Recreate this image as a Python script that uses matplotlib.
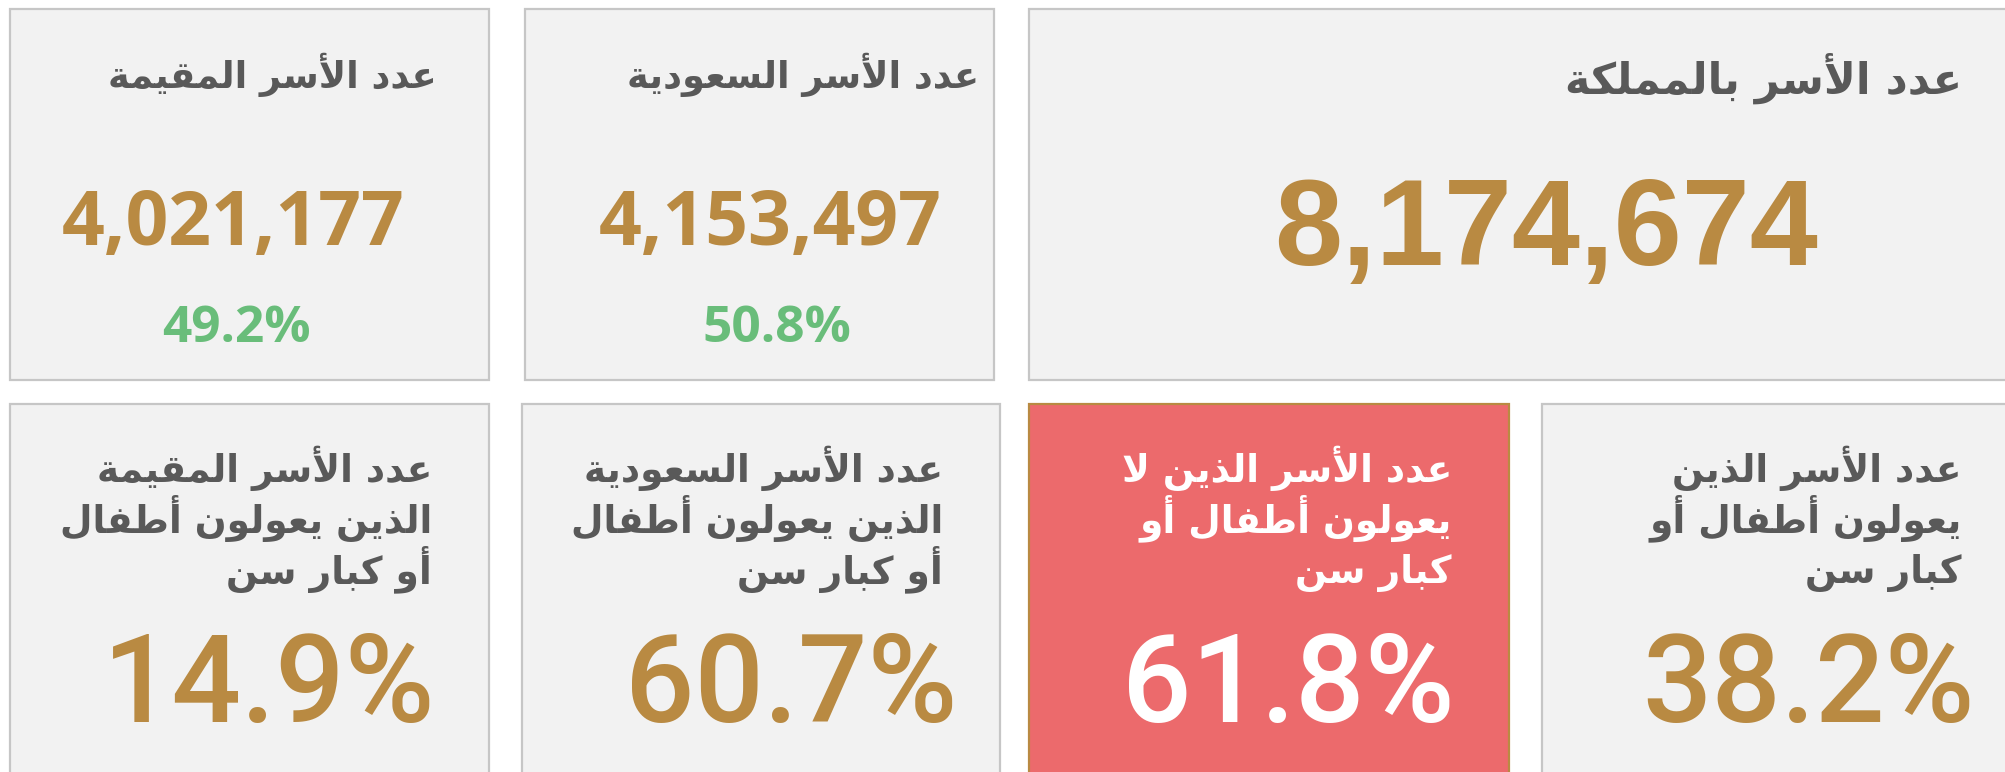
import matplotlib
matplotlib.use('Agg')
import matplotlib.pyplot as plt
from matplotlib.patches import Rectangle

# ---- data ----
top_titles = ['عدد الأسر المقيمة', 'عدد الأسر السعودية', 'عدد الأسر بالمملكة']
top_counts = [4021177, 4153497, 8174674]
top_shares = ['49.2%', '50.8%', None]

bottom_titles = [
    ['عدد الأسر المقيمة', 'الذين يعولون أطفال', 'أو كبار سن'],
    ['عدد الأسر السعودية', 'الذين يعولون أطفال', 'أو كبار سن'],
    ['عدد الأسر الذين لا', 'يعولون أطفال أو', 'كبار سن'],
    ['عدد الأسر الذين', 'يعولون أطفال أو', 'كبار سن'],
]
bottom_pcts = [14.9, 60.7, 61.8, 38.2]
highlight = 2  # the red card

# ---- colours ----
card_bg = '#f2f2f2'
card_edge = '#c6c6c6'
gray = '#595959'
gold = '#b98a42'
green = '#69bd7a'
red = '#ec6a6c'

# minimal arabic shaping (matplotlib has no shaper): isolated, final, initial, medial
FORMS = {
    'ا': ('\uFE8D', '\uFE8E', None, None),
    'أ': ('\uFE83', '\uFE84', None, None),
    'ب': ('\uFE8F', '\uFE90', '\uFE91', '\uFE92'),
    'ة': ('\uFE93', '\uFE94', None, None),
    'د': ('\uFEA9', '\uFEAA', None, None),
    'ذ': ('\uFEAB', '\uFEAC', None, None),
    'ر': ('\uFEAD', '\uFEAE', None, None),
    'س': ('\uFEB1', '\uFEB2', '\uFEB3', '\uFEB4'),
    'ط': ('\uFEC1', '\uFEC2', '\uFEC3', '\uFEC4'),
    'ع': ('\uFEC9', '\uFECA', '\uFECB', '\uFECC'),
    'ف': ('\uFED1', '\uFED2', '\uFED3', '\uFED4'),
    'ق': ('\uFED5', '\uFED6', '\uFED7', '\uFED8'),
    'ك': ('\uFED9', '\uFEDA', '\uFEDB', '\uFEDC'),
    'ل': ('\uFEDD', '\uFEDE', '\uFEDF', '\uFEE0'),
    'م': ('\uFEE1', '\uFEE2', '\uFEE3', '\uFEE4'),
    'ن': ('\uFEE5', '\uFEE6', '\uFEE7', '\uFEE8'),
    'و': ('\uFEED', '\uFEEE', None, None),
    'ي': ('\uFEF1', '\uFEF2', '\uFEF3', '\uFEF4'),
    'لا': ('\uFEFB', '\uFEFC', None, None),
    'لأ': ('\uFEF7', '\uFEF8', None, None),
}


def shape(s):
    toks = []
    i = 0
    while i < len(s):
        if s[i] == 'ل' and i + 1 < len(s) and s[i + 1] in 'اأ':
            toks.append(s[i:i + 2])
            i += 2
        else:
            toks.append(s[i])
            i += 1
    out = []
    for k, t in enumerate(toks):
        f = FORMS.get(t)
        if f is None:
            out.append(t)
            continue
        pf = FORMS.get(toks[k - 1]) if k > 0 else None
        nf = FORMS.get(toks[k + 1]) if k + 1 < len(toks) else None
        jp = pf is not None and pf[2] is not None
        jn = f[2] is not None and nf is not None
        if jp and jn:
            out.append(f[3])
        elif jp:
            out.append(f[1])
        elif jn:
            out.append(f[2])
        else:
            out.append(f[0])
    return ''.join(reversed(out))


W, H = 2005, 772
fig = plt.figure(figsize=(W / 100, H / 100), dpi=100)
ax = fig.add_axes([0, 0, 1, 1])
ax.set_xlim(0, W)
ax.set_ylim(H, 0)
ax.axis('off')

ar_font = dict(family='DejaVu Sans', weight='bold')
num_font = dict(family='Open Sans', weight='bold')
pct_font = dict(family='Roboto', weight='medium')

# top row cards (left, right)
top_boxes = [(10, 489), (525, 994), (1029, 2030)]
top_title_right = [437, 979, 1962]
top_num_x = [233, 770, 1546]
top_share_x = [236, 777]
for i, (x0, x1) in enumerate(top_boxes):
    ax.add_patch(Rectangle((x0, 9), x1 - x0, 371, facecolor=card_bg,
                           edgecolor=card_edge, lw=1.6, clip_on=False))
    big = i == 2
    ax.text(top_title_right[i], 94 if big else 88, shape(top_titles[i]),
            ha='right', va='baseline', color=gray,
            fontsize=31 if big else 26.5, **ar_font)
    if big:
        ax.text(top_num_x[i], 265, f'{top_counts[i]:,}', ha='center',
                va='baseline', color=gold, fontsize=88,
                family='Liberation Sans', weight='bold')
    else:
        ax.text(top_num_x[i], 245, f'{top_counts[i]:,}', ha='center',
                va='baseline', color=gold, fontsize=54, **num_font)
        ax.text(top_share_x[i], 342, top_shares[i], ha='center',
                va='baseline', color=green, fontsize=37, **num_font)

# bottom row cards
bot_boxes = [(10, 489), (522, 1000), (1029, 1509), (1542, 2030)]
bot_title_right = [432, 943, 1452, 1962]
bot_pct_right = [435, 957, 1455, 1975]
for i, (x0, x1) in enumerate(bot_boxes):
    hl = i == highlight
    ax.add_patch(Rectangle((x0, 404), x1 - x0, 420,
                           facecolor=red if hl else card_bg,
                           edgecolor=gold if hl else card_edge,
                           lw=1.6, clip_on=False))
    tc = 'white' if hl else gray
    for j, line in enumerate(bottom_titles[i]):
        ax.text(bot_title_right[i], 482 + 50.5 * j, shape(line), ha='right',
                va='baseline', color=tc, fontsize=27, **ar_font)
    ax.text(bot_pct_right[i], 722, f'{bottom_pcts[i]}%', ha='right',
            va='baseline', color='white' if hl else gold, fontsize=88,
            **pct_font)

fig.savefig('out.png', dpi=100, facecolor='white')
